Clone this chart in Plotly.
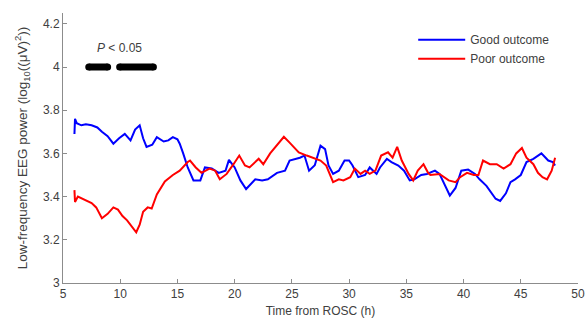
import plotly.graph_objects as go

# Good outcome (blue)
good_t = [6.0, 6.05, 6.2, 6.6, 7.0, 7.5, 8.0, 8.4, 8.9, 9.4, 9.9, 10.4, 10.9, 11.3, 11.7, 12.0, 12.3,
          12.8, 13.2, 13.8, 14.2, 14.6, 15.0, 15.2, 15.5, 15.9, 16.4, 17.0, 17.4, 18.0, 18.6, 19.2,
          19.5, 20.0, 20.5, 21.0, 21.8, 22.4, 22.9, 23.7, 24.4, 24.8, 25.7, 26.1, 26.5, 27.0, 27.5,
          27.9, 28.2, 28.6, 29.1, 29.6, 30.0, 30.3, 30.8, 31.4, 31.8, 32.4, 32.7, 33.3, 33.7, 34.3,
          34.8, 35.3, 35.7, 36.3, 36.8, 37.5, 37.9, 38.4, 38.8, 39.3, 39.8, 40.4, 41.0, 41.4, 42.0,
          42.8, 43.2, 43.7, 44.1, 44.5, 45.0, 45.5, 46.1, 46.8, 47.4, 47.8, 48.0]
good_v = [3.69, 3.76, 3.74, 3.73, 3.735, 3.73, 3.72, 3.70, 3.68, 3.645, 3.67, 3.69, 3.66, 3.71, 3.73,
          3.67, 3.63, 3.64, 3.675, 3.655, 3.66, 3.675, 3.665, 3.645, 3.60, 3.535, 3.475, 3.475, 3.535,
          3.53, 3.51, 3.52, 3.57, 3.535, 3.475, 3.435, 3.48, 3.475, 3.48, 3.51, 3.52, 3.567, 3.58,
          3.59, 3.52, 3.545, 3.636, 3.62, 3.544, 3.505, 3.52, 3.567, 3.567, 3.544, 3.49, 3.50, 3.535,
          3.505, 3.535, 3.575, 3.56, 3.544, 3.52, 3.475, 3.48, 3.50, 3.505, 3.52, 3.505, 3.45, 3.405,
          3.44, 3.52, 3.525, 3.505, 3.48, 3.45, 3.39, 3.38, 3.415, 3.467, 3.48, 3.50, 3.56, 3.575,
          3.60, 3.567, 3.56, 3.544]

# Poor outcome (red)
poor_t = [6.0, 6.05, 6.3, 6.7, 7.1, 7.5, 7.9, 8.4, 8.9, 9.4, 9.8, 10.2, 10.6, 11.0, 11.4, 11.7, 12.0,
          12.4, 12.75, 13.2, 13.9, 14.6, 15.2, 15.9, 16.1, 16.6, 17.1, 17.8, 18.3, 18.7, 19.3, 19.9,
          20.4, 20.9, 21.3, 22.1, 22.5, 23.1, 23.7, 24.3, 24.8, 25.6, 26.3, 26.9, 27.5, 28.0, 28.6,
          29.1, 29.5, 30.1, 30.5, 31.0, 31.4, 31.8, 32.3, 32.8, 33.4, 33.8, 34.2, 34.6, 35.2, 35.6,
          36.0, 36.5, 36.9, 37.1, 37.9, 38.7, 39.3, 39.7, 40.3, 40.9, 41.3, 41.7, 42.3, 42.9, 43.5,
          44.1, 44.6, 45.1, 45.5, 46.1, 46.5, 46.9, 47.3, 47.7, 48.0]
poor_v = [3.43, 3.375, 3.40, 3.39, 3.38, 3.37, 3.35, 3.30, 3.32, 3.35, 3.34, 3.31, 3.29, 3.26, 3.235,
          3.27, 3.33, 3.35, 3.345, 3.41, 3.47, 3.50, 3.52, 3.56, 3.567, 3.535, 3.51, 3.53, 3.52, 3.48,
          3.505, 3.55, 3.59, 3.544, 3.535, 3.575, 3.55, 3.60, 3.636, 3.677, 3.65, 3.605, 3.59, 3.58,
          3.567, 3.544, 3.467, 3.48, 3.475, 3.49, 3.53, 3.505, 3.52, 3.505, 3.52, 3.59, 3.605, 3.58,
          3.63, 3.567, 3.505, 3.475, 3.52, 3.55, 3.51, 3.50, 3.505, 3.475, 3.467, 3.49, 3.51, 3.50,
          3.50, 3.567, 3.55, 3.55, 3.53, 3.55, 3.60, 3.625, 3.58, 3.55, 3.51, 3.49, 3.48, 3.52, 3.58]

# Significance segments (P < 0.05)
sig_starts = [7.25, 9.95]
sig_ends = [8.9, 12.9]
sig_level = 4.0

x_ticks = [5, 10, 15, 20, 25, 30, 35, 40, 45, 50]
y_ticks = [3, 3.2, 3.4, 3.6, 3.8, 4, 4.2]
y_tick_text = ["3", "3.2", "3.4", "3.6", "3.8", "4", "4.2"]

FONT = "Liberation Sans, Arial, sans-serif"
TXT = "#404040"
AX = "#8c8c8c"

fig = go.Figure()
for s, e in zip(sig_starts, sig_ends):
    fig.add_trace(go.Scatter(x=[s, e], y=[sig_level, sig_level], mode="lines+markers",
                             line=dict(color="black", width=7),
                             marker=dict(color="black", size=7),
                             showlegend=False, hoverinfo="skip"))
fig.add_trace(go.Scatter(x=good_t, y=good_v, mode="lines", name="Good outcome",
                         line=dict(color="#0000ff", width=2)))
fig.add_trace(go.Scatter(x=poor_t, y=poor_v, mode="lines", name="Poor outcome",
                         line=dict(color="#ff0000", width=2)))

fig.add_annotation(x=9.9, y=4.09, xref="x", yref="y", text="<i>P</i> < 0.05",
                   showarrow=False, font=dict(family=FONT, size=12, color=TXT))

fig.update_layout(
    width=586, height=322,
    margin=dict(l=63, r=8, t=13, b=39),
    paper_bgcolor="white", plot_bgcolor="white",
    font=dict(family=FONT, size=12, color=TXT),
    legend=dict(x=0.68, y=0.955, xanchor="left", yanchor="top",
                bgcolor="rgba(0,0,0,0)", font=dict(size=12, color=TXT),
                tracegroupgap=0, itemwidth=47),
    xaxis=dict(range=[5, 50], tickvals=x_ticks, ticks="inside", ticklen=4,
               tickcolor=AX, showline=True, linecolor=AX, linewidth=1,
               showgrid=False, zeroline=False, automargin=False,
               title=dict(text="Time from ROSC (h)", standoff=6,
                          font=dict(size=12, color=TXT)),
               tickfont=dict(size=12, color=TXT)),
    yaxis=dict(range=[3, 4.25], tickvals=y_ticks, ticktext=y_tick_text,
               ticks="inside", ticklen=4, tickcolor=AX,
               showline=True, linecolor=AX, linewidth=1,
               showgrid=False, zeroline=False, automargin=False,
               title=dict(text="Low-frequency EEG power (log<sub>10</sub>((μV)<sup>2</sup>))",
                          standoff=12, font=dict(size=13.5, color=TXT)),
               tickfont=dict(size=12, color=TXT)),
)

fig.write_html("out.html", config={"displayModeBar": False},
               post_script="document.body.style.margin='0';")
